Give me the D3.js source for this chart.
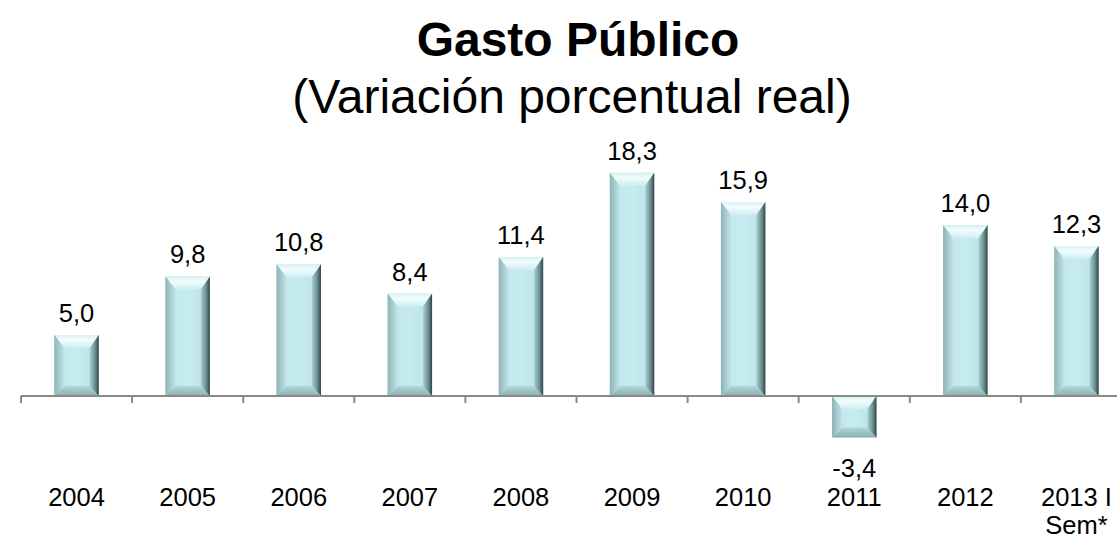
<!DOCTYPE html>
<html lang="es">
<head>
<meta charset="utf-8">
<title>Gasto Público</title>
<script src="https://d3js.org/d3.v7.min.js"></script>
<style>
    body { margin: 0; background: #fff; }
    svg { display: block; font-family: "Liberation Sans", Arial, sans-serif; }
    .title { font-size: 48px; font-weight: bold; }
    .subtitle { font-size: 48px; }
    .value, .year { font-size: 25.5px; fill: #000; }
</style>
</head>
<body>
<div id="chart"></div>
<script>
// data
const years = ["2004", "2005", "2006", "2007", "2008", "2009", "2010", "2011", "2012", "2013 I Sem*"];
const values = [5.0, 9.8, 10.8, 8.4, 11.4, 18.3, 15.9, -3.4, 14.0, 12.3];
const titleText = "Gasto Público";
const subtitleText = "(Variación porcentual real)";

const W = 1117, H = 538;

const svg = d3.select("#chart").append("svg")
    .attr("width", W)
    .attr("height", H);

// x: one step per year, bar takes 40% of the step
const x = d3.scaleBand()
    .domain(years)
    .range([21, 1132])
    .paddingInner(0.6)
    .paddingOuter(0.3);

const y = d3.scaleLinear()
    .domain([-5, 20])
    .range([457, 152]);

const data = years.map((d, i) => ({year: d, value: values[i]}));

// titles
svg.append("text").attr("class", "title")
    .attr("x", 578).attr("y", 56)
    .attr("text-anchor", "middle")
    .text(titleText);
svg.append("text").attr("class", "subtitle")
    .attr("x", 572).attr("y", 113)
    .attr("text-anchor", "middle")
    .text(subtitleText);

// gradients for the bevel look
const defs = svg.append("defs");
function grad(id, x1, y1, x2, y2, stops) {
    const g = defs.append("linearGradient").attr("id", id)
        .attr("x1", x1).attr("y1", y1).attr("x2", x2).attr("y2", y2);
    stops.forEach(s => g.append("stop").attr("offset", s[0]).attr("stop-color", s[1]));
}
grad("gFace", 0, 0, 1, 0, [[0, "#bfe6e9"], [0.5, "#c6ecef"], [1, "#b9e0e3"]]);
grad("gTop", 0, 0, 0, 1, [[0, "#d8f1f3"], [0.4, "#f2fcfc"], [1, "#cdeef1"]]);
grad("gBottom", 0, 0, 0, 1, [[0, "#b2d8db"], [1, "#8aaeb1"]]);
grad("gLeft", 0, 0, 1, 0, [[0, "#8fb2b5"], [1, "#c0e5e8"]]);
grad("gRight", 0, 0, 1, 0, [[0, "#a8cfd2"], [0.6, "#6b8d90"], [1, "#2f4546"]]);

const y0 = y(0);
const bars = svg.append("g").selectAll("g")
    .data(data)
    .join("g");

bars.each(function(d) {
    const g = d3.select(this);
    const x0 = x(d.year), x1 = x0 + x.bandwidth();
    const top = Math.min(y(d.value), y0), bot = Math.max(y(d.value), y0);
    const h = bot - top;
    const bl = 10, br = 9;
    const bt = Math.min(13, h * 0.32), bb = Math.min(10, h * 0.26);
    const pts = a => a.map(p => p.join(",")).join(" ");
    g.append("rect").attr("x", x0).attr("y", top)
        .attr("width", x1 - x0).attr("height", h).attr("fill", "url(#gFace)");
    g.append("polygon").attr("fill", "url(#gTop)")
        .attr("points", pts([[x0, top], [x1, top], [x1 - br, top + bt], [x0 + bl, top + bt]]));
    g.append("polygon").attr("fill", "url(#gBottom)")
        .attr("points", pts([[x0 + bl, bot - bb], [x1 - br, bot - bb], [x1, bot], [x0, bot]]));
    g.append("polygon").attr("fill", "url(#gLeft)")
        .attr("points", pts([[x0, top], [x0 + bl, top + bt], [x0 + bl, bot - bb], [x0, bot]]));
    g.append("polygon").attr("fill", "url(#gRight)")
        .attr("points", pts([[x1 - br, top + bt], [x1, top], [x1, bot], [x1 - br, bot - bb]]));
});

// value labels
svg.append("g").selectAll("text")
    .data(data)
    .join("text")
    .attr("class", "value")
    .attr("text-anchor", "middle")
    .attr("x", d => x(d.year) + x.bandwidth() / 2)
    .attr("y", d => d.value >= 0 ? y(d.value) - 13 : y(d.value) + 40)
    .text(d => d.value.toFixed(1).replace(".", ","));

// category axis with ticks between categories
const axis = svg.append("g");
axis.append("line")
    .attr("x1", x.range()[0]).attr("x2", x.range()[1])
    .attr("y1", y0).attr("y2", y0)
    .attr("stroke", "#898989").attr("stroke-width", 2);
axis.selectAll(".tick")
    .data(years)
    .join("line")
    .attr("class", "tick")
    .attr("x1", d => x(d) - x.step() * 0.3)
    .attr("x2", d => x(d) - x.step() * 0.3)
    .attr("y1", y0).attr("y2", y0 + 7)
    .attr("stroke", "#898989").attr("stroke-width", 2);

// year labels, wrapped to the step width
const yearText = svg.append("g").selectAll("text")
    .data(years)
    .join("text")
    .attr("class", "year")
    .attr("text-anchor", "middle")
    .attr("x", d => x(d) + x.bandwidth() / 2)
    .attr("y", 506);

yearText.each(function(d) {
    const t = d3.select(this);
    const words = d.split(" ");
    let line = [];
    let ts = t.append("tspan").attr("x", t.attr("x"));
    words.forEach(w => {
        line.push(w);
        ts.text(line.join(" "));
        if (ts.node().getComputedTextLength() > x.step() - 4 && line.length > 1) {
            line.pop();
            ts.text(line.join(" "));
            line = [w];
            ts = t.append("tspan").attr("x", t.attr("x")).attr("dy", 28).text(w);
        }
    });
});
</script>
</body>
</html>
